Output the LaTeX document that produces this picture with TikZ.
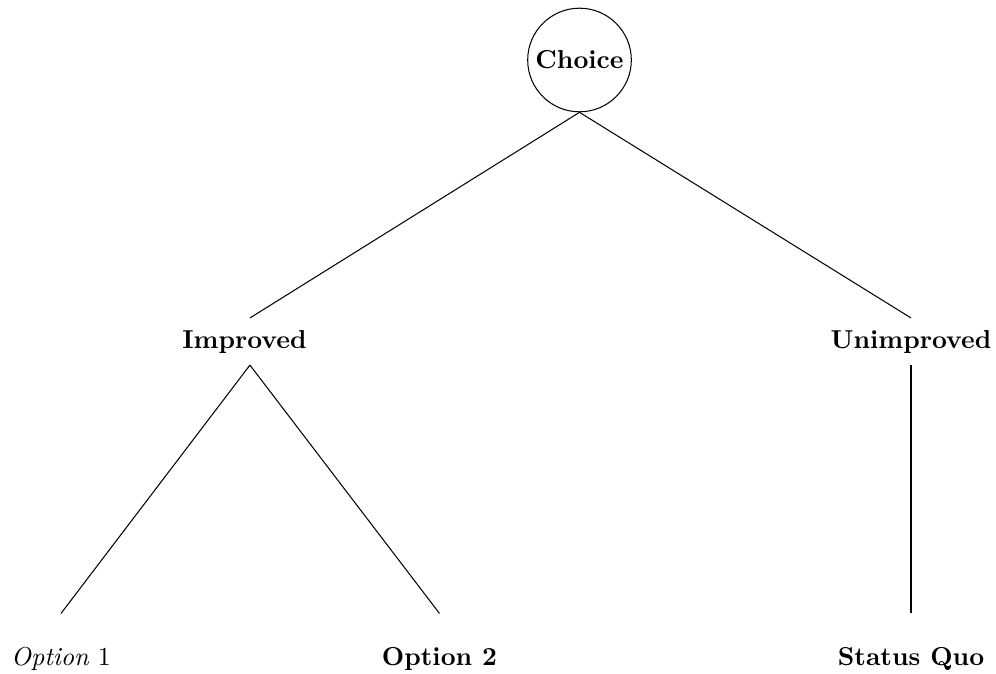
\documentclass[tikz,border=0pt]{standalone}
\begin{document}
\begin{tikzpicture}[x=0.386pt,y=-0.386pt,
  inner/.style={font=\bfseries, anchor=base, text height=7pt, text depth=2pt, inner xsep=2pt, inner ysep=4.4pt},
  leaf/.style={anchor=base, text height=15.3pt, text depth=2pt, inner xsep=2pt, inner ysep=4.4pt},
  rootnode/.style={draw, circle, font=\bfseries, minimum size=40pt, inner sep=0pt},
  edge/.style={draw, line width=0.4pt}]
\useasboundingbox (0,0) rectangle (996,673);
\node[rootnode] (choice) at (579.5,60) {Choice};
\node[inner] (imp) at (244.5,348) {Improved};
\node[inner] (unimp) at (911,348) {Unimproved};
\node[leaf] (opt1) at (61,665) {\textit{Option} 1};
\node[leaf, font=\bfseries] (opt2) at (439.5,665) {Option 2};
\node[leaf, font=\bfseries] (sq) at (911,665) {Status Quo};
\coordinate (impT) at ([xshift=2.1pt]imp.north);
\coordinate (impB) at ([xshift=2.1pt]imp.south);
\path[edge] (choice.south) -- (impT);
\path[edge] (choice.south) -- (unimp.north);
\path[edge] (impB) -- (opt1.north);
\path[edge] (impB) -- (opt2.north);
\path[edge] (unimp.south) -- (sq.north);
\end{tikzpicture}
\end{document}
